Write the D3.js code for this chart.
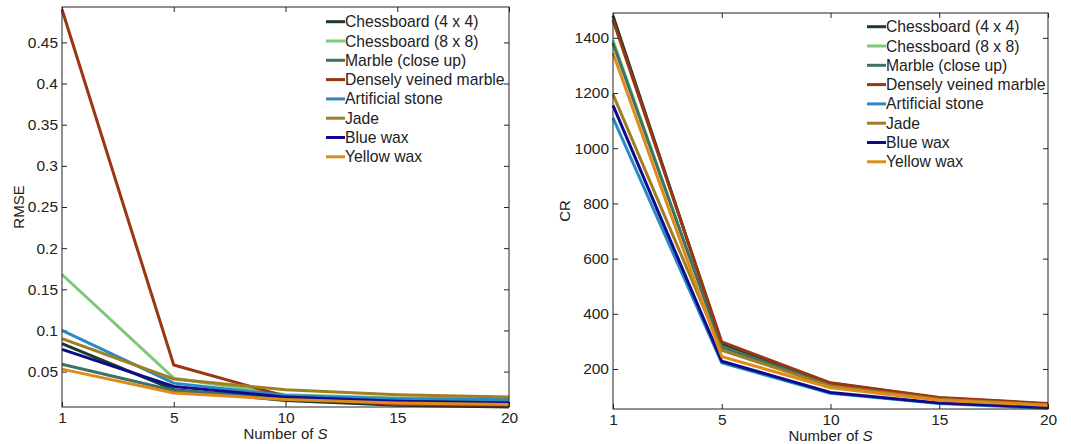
<!DOCTYPE html>
<html>
<head>
<meta charset="utf-8">
<script src="https://cdn.jsdelivr.net/npm/d3@7"></script>
<style>
  body { margin: 0; background: #fff; }
  svg { display: block; font-family: "Liberation Sans", Arial, sans-serif; }
  .tick text { font-size: 15.5px; fill: #222; }
  .lbl { font-size: 15px; fill: #222; }
  .leg { font-size: 15.7px; fill: #222; }
</style>
</head>
<body>
<svg id="chart" width="1071" height="444"></svg>
<script>
const xCats = [1, 5, 10, 15, 20]
const seriesNames = ['Chessboard (4 x 4)', 'Chessboard (8 x 8)', 'Marble (close up)', 'Densely veined marble',
  'Artificial stone', 'Jade', 'Blue wax', 'Yellow wax']
const seriesColors = ['#1c3a2c', '#7cc87c', '#3e7262', '#9a3612', '#2a8ac6', '#a07e22', '#0c0c8c', '#e08a1c']

const rmseChess4 = [0.084, 0.028, 0.015, 0.009, 0.007]
const rmseChess8 = [0.168, 0.042, 0.022, 0.018, 0.017]
const rmseMarble = [0.059, 0.027, 0.018, 0.016, 0.015]
const rmseDensely = [0.490, 0.058, 0.020, 0.010, 0.008]
const rmseArtificial = [0.100, 0.036, 0.021, 0.017, 0.016]
const rmseJade = [0.090, 0.041, 0.028, 0.022, 0.019]
const rmseBlue = [0.077, 0.032, 0.019, 0.014, 0.012]
const rmseYellow = [0.053, 0.024, 0.016, 0.012, 0.010]

const crChess4 = [1480, 292, 148, 95, 73]
const crChess8 = [1390, 275, 140, 90, 70]
const crMarble = [1380, 280, 142, 92, 71]
const crDensely = [1465, 298, 150, 97, 75]
const crArtificial = [1110, 222, 112, 75, 58]
const crJade = [1195, 268, 138, 90, 70]
const crBlue = [1155, 228, 115, 77, 60]
const crYellow = [1345, 245, 132, 87, 68]

const rmseTicks = [0.05, 0.1, 0.15, 0.2, 0.25, 0.3, 0.35, 0.4, 0.45]
const crTicks = [200, 400, 600, 800, 1000, 1200, 1400]

const rmseSeries = [rmseChess4, rmseChess8, rmseMarble, rmseDensely, rmseArtificial, rmseJade, rmseBlue, rmseYellow]
const crSeries = [crChess4, crChess8, crMarble, crDensely, crArtificial, crJade, crBlue, crYellow]

const svg = d3.select('#chart')

function panel(opt) {
  const { left, right, top, bottom, domain, ticks, series, ylabel, ylabelX, xlabelY, legX, legY } = opt
  const g = svg.append('g')
  const x = d3.scalePoint().domain(xCats).range([left, right])
  const y = d3.scaleLinear().domain(domain).range([bottom, top])

  // box axes, MATLAB style (ticks inward on all four sides)
  g.append('g').attr('transform', `translate(0,${bottom})`)
    .call(d3.axisBottom(x).tickSizeInner(-5).tickSizeOuter(0).tickPadding(5))
  g.append('g').attr('transform', `translate(0,${top})`)
    .call(d3.axisTop(x).tickSizeInner(-5).tickSizeOuter(0).tickFormat(''))
  g.append('g').attr('transform', `translate(${left},0)`)
    .call(d3.axisLeft(y).tickValues(ticks).tickSizeInner(-5).tickSizeOuter(0).tickPadding(4).tickFormat(d => String(+d.toFixed(2))))
  g.append('g').attr('transform', `translate(${right},0)`)
    .call(d3.axisRight(y).tickValues(ticks).tickSizeInner(-5).tickSizeOuter(0).tickFormat(''))
  g.selectAll('.domain').remove()
  g.selectAll('.tick line').attr('stroke', '#222')

  const line = d3.line().x((d, i) => x(xCats[i])).y(d => y(d))
  series.forEach((s, i) => {
    g.append('path').datum(s)
      .attr('d', line)
      .attr('fill', 'none')
      .attr('stroke', seriesColors[i])
      .attr('stroke-width', 3)
      .attr('stroke-linejoin', 'round')
  })

  g.append('rect')
    .attr('x', left).attr('y', top)
    .attr('width', right - left).attr('height', bottom - top)
    .attr('fill', 'none').attr('stroke', '#222').attr('stroke-width', 1)

  // legend
  const leg = g.append('g')
  seriesNames.forEach((name, i) => {
    const ly = legY + i * 19.3
    leg.append('line')
      .attr('x1', legX).attr('x2', legX + 19)
      .attr('y1', ly).attr('y2', ly)
      .attr('stroke', seriesColors[i]).attr('stroke-width', 3)
    leg.append('text').attr('class', 'leg')
      .attr('x', legX + 19).attr('y', ly + 5.5)
      .text(name)
  })

  g.append('text').attr('class', 'lbl')
    .attr('transform', `translate(${ylabelX},${(top + bottom) / 2}) rotate(-90)`)
    .attr('text-anchor', 'middle')
    .text(ylabel)

  const xl = g.append('text').attr('class', 'lbl')
    .attr('x', (left + right) / 2).attr('y', xlabelY)
    .attr('text-anchor', 'middle')
  xl.append('tspan').text('Number of ')
  xl.append('tspan').attr('font-style', 'italic').text('S')
}

panel({
  left: 62, right: 509, top: 7, bottom: 407,
  domain: [0.007, 0.493], ticks: rmseTicks, series: rmseSeries,
  ylabel: 'RMSE', ylabelX: 24, xlabelY: 439, legX: 326, legY: 21.7
})

panel({
  left: 613, right: 1048, top: 13, bottom: 409,
  domain: [55, 1490], ticks: crTicks, series: crSeries,
  ylabel: 'CR', ylabelX: 570, xlabelY: 441, legX: 867, legY: 26.7
})
</script>
</body>
</html>
